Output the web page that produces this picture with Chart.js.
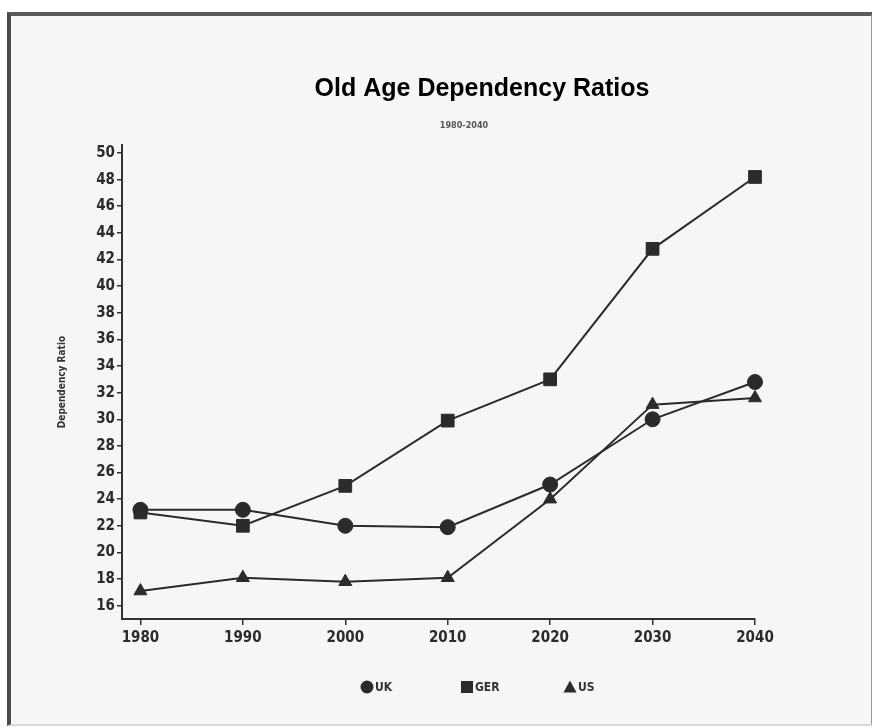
<!DOCTYPE html>
<html>
<head>
<meta charset="utf-8">
<script src="https://cdn.jsdelivr.net/npm/chart.js@4/dist/chart.umd.min.js"></script>
<style>
  html, body { margin: 0; padding: 0; background: #ffffff; }
  #wrap { position: relative; width: 872px; height: 728px; overflow: hidden; }
  #frame {
    position: absolute; left: 7px; top: 12px; width: 866px; height: 714px;
    background: #f6f6f6;
    border-top: 4px solid #5a5a5a; border-left: 4px solid #4a4a4a;
    border-right: 2px solid #9a9a9a; border-bottom: 2px solid #d8d8d8;
    box-sizing: border-box;
  }
  canvas { position: absolute; left: 0; top: 0; }
</style>
</head>
<body>
<div id="wrap">
  <div id="frame"></div>
  <canvas id="ratioChart" width="872" height="728"></canvas>
</div>
<script>
// values
var years = [1980, 1990, 2000, 2010, 2020, 2030, 2040];
var ukRatio = [23.2, 23.2, 22.0, 21.9, 25.1, 30.0, 32.8];
var gerRatio = [23.0, 22.0, 25.0, 29.9, 33.0, 42.8, 48.2];
var usRatio = [17.1, 18.1, 17.8, 18.1, 24.0, 31.1, 31.6];
var yTicks = [16, 18, 20, 22, 24, 26, 28, 30, 32, 34, 36, 38, 40, 42, 44, 46, 48, 50];

var titleText = 'Old Age Dependency Ratios';
var subtitleText = '1980-2040';

var ink = '#2b2b2b';
var tickFont = { family: '"DejaVu Sans Condensed", "DejaVu Sans", sans-serif', size: 15, weight: 'bold' };

function toPoints(vals) {
    return years.map(function(y, i) { return { x: y, y: vals[i] }; });
}

function series(label, vals, style, radius) {
    return {
        label: label,
        data: toPoints(vals),
        borderColor: ink,
        backgroundColor: ink,
        borderWidth: 2,
        pointStyle: style,
        pointRadius: radius,
        pointBackgroundColor: ink,
        pointBorderColor: ink,
        pointBorderWidth: 1,
        fill: false,
        clip: false,
        tension: 0
    };
}

// title, subtitle and legend drawn where the reference has them
var headerLegend = {
    id: 'headerLegend',
    afterDraw: function(chart) {
        var ctx = chart.ctx;
        ctx.save();
        ctx.fillStyle = '#000';
        ctx.textAlign = 'center';
        ctx.textBaseline = 'middle';
        ctx.font = 'bold 25px "Liberation Sans", Arial, sans-serif';
        ctx.fillText(titleText, 482, 89);
        ctx.fillStyle = '#555';
        ctx.font = 'bold 9px "DejaVu Sans Condensed", "DejaVu Sans", sans-serif';
        ctx.fillText(subtitleText, 464, 126);

        var xs = [367, 467, 570];
        var cy = 687;
        ctx.font = 'bold 12px "DejaVu Sans Condensed", "DejaVu Sans", sans-serif';
        ctx.textAlign = 'left';
        chart.data.datasets.forEach(function(ds, i) {
            var cx = xs[i];
            ctx.fillStyle = ink;
            ctx.beginPath();
            if (ds.pointStyle === 'circle') {
                ctx.arc(cx, cy, 6.5, 0, Math.PI * 2);
            } else if (ds.pointStyle === 'rect') {
                ctx.rect(cx - 6, cy - 6, 12, 12);
            } else {
                ctx.moveTo(cx, cy - 6.5);
                ctx.lineTo(cx + 6.5, cy + 5.5);
                ctx.lineTo(cx - 6.5, cy + 5.5);
                ctx.closePath();
            }
            ctx.fill();
            ctx.fillStyle = '#333';
            ctx.fillText(ds.label, cx + 8, cy + 1);
        });
        ctx.restore();
    }
};

var ctx = document.getElementById('ratioChart').getContext('2d');
var ratioChart = new Chart(ctx, {
    type: 'line',
    data: {
        datasets: [
            series('UK', ukRatio, 'circle', 7.5),
            series('GER', gerRatio, 'rect', 9),
            series('US', usRatio, 'triangle', 7.5)
        ]
    },
    options: {
        responsive: false,
        animation: false,
        layout: {
            padding: { left: 52, right: 117, top: 145, bottom: 69 }
        },
        plugins: {
            legend: { display: false },
            title: { display: false },
            tooltip: { enabled: false }
        },
        scales: {
            x: {
                type: 'linear',
                min: 1978.2,
                max: 2040,
                afterBuildTicks: function(scale) {
                    scale.ticks = years.map(function(v) { return { value: v }; });
                },
                afterFit: function(scale) { scale.height = 40; },
                border: { display: true, color: '#333', width: 2 },
                grid: { drawOnChartArea: false, color: '#333', tickLength: 6, lineWidth: 1.5 },
                ticks: {
                    color: ink,
                    font: tickFont,
                    padding: 4,
                    maxRotation: 0,
                    autoSkip: false,
                    callback: function(v) { return String(v); }
                }
            },
            y: {
                type: 'linear',
                min: 15,
                max: 50.6,
                afterBuildTicks: function(scale) {
                    scale.ticks = yTicks.map(function(v) { return { value: v }; });
                },
                afterFit: function(scale) { scale.width = 70; },
                border: { display: true, color: '#333', width: 2 },
                grid: { drawOnChartArea: false, color: '#333', tickLength: 5, lineWidth: 1.5 },
                ticks: {
                    color: ink,
                    font: tickFont,
                    padding: 2,
                    autoSkip: false
                },
                title: {
                    display: true,
                    text: 'Dependency Ratio',
                    color: '#333',
                    font: { family: '"DejaVu Sans Condensed", "DejaVu Sans", sans-serif', size: 10, weight: 'bold' },
                    padding: { top: 4, bottom: 0 }
                }
            }
        }
    },
    plugins: [headerLegend]
});
</script>
</body>
</html>
